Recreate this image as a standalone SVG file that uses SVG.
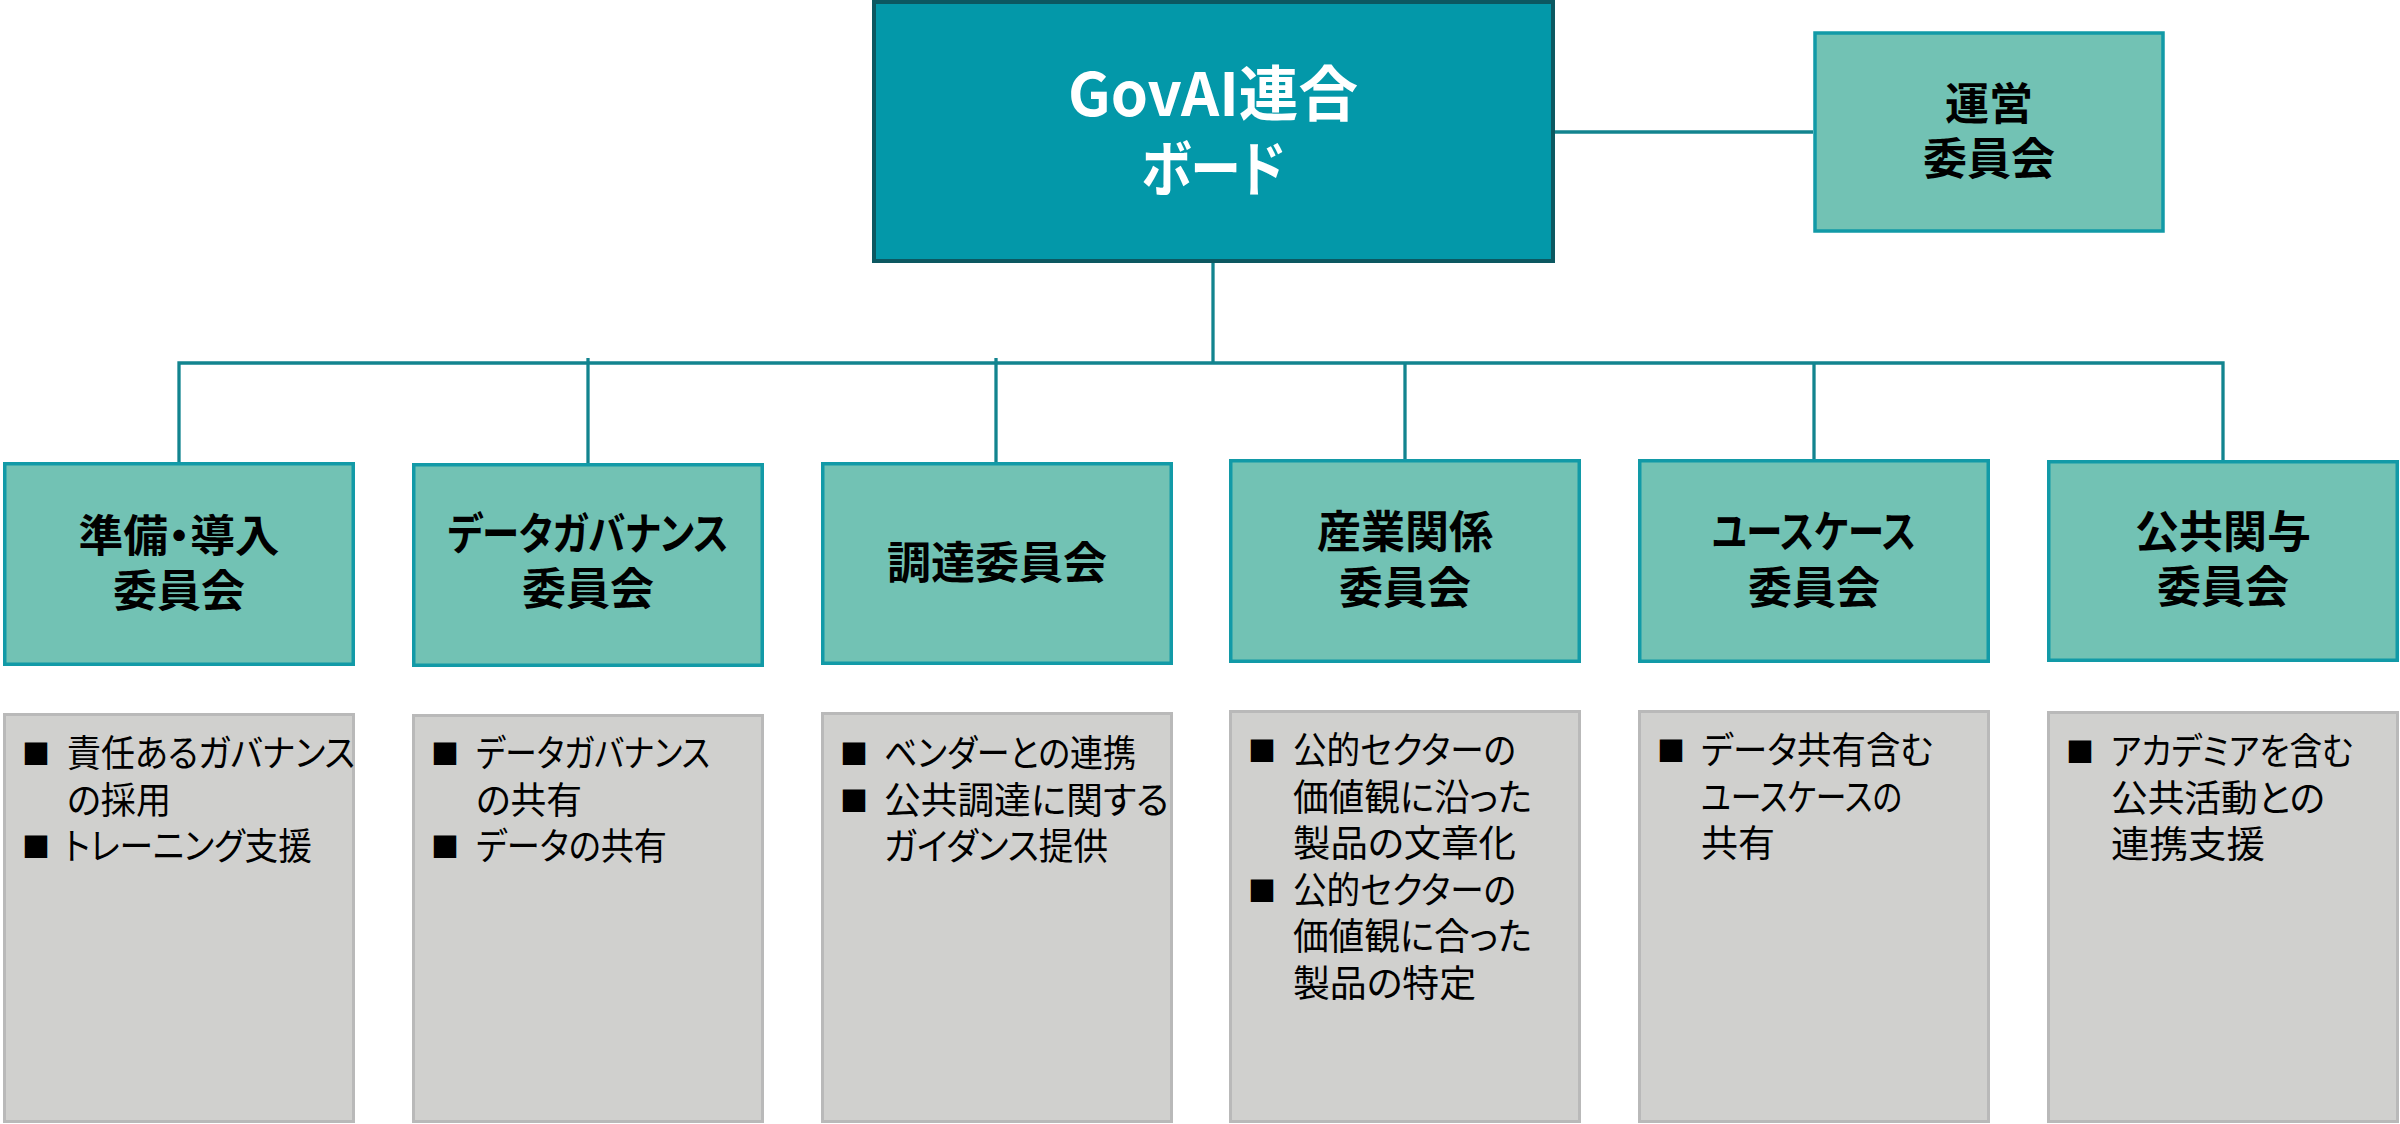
<svg xmlns="http://www.w3.org/2000/svg" width="2400" height="1124" viewBox="0 0 2400 1124">
<style>
.conn{stroke:#12848f;stroke-width:3.3;fill:none}
.board{fill:#0398a9;stroke:#0c5861;stroke-width:4}
.cmte{fill:#72c2b4;stroke:#129aa7;stroke-width:3.5}
.list{fill:#d0d0ce;stroke:#b9b9b9;stroke-width:3}
text{font-family:"Noto Sans CJK JP",sans-serif;font-feature-settings:"palt";fill:#000}
.h{font-weight:700;font-size:44px;text-anchor:middle}
.hw{font-weight:700;font-size:60px;fill:#fff;text-anchor:middle}
.b{font-size:37px}
.bul{font-size:28px}
</style>
<rect width="2400" height="1124" fill="#fff"/>
<g id="connectors">
<path class="conn" d="M1213,263 V363"/>
<path class="conn" d="M179,462 V363 H2223 V460"/>
<path class="conn" d="M588,358 V463"/>
<path class="conn" d="M996,358 V462"/>
<path class="conn" d="M1405,363 V459"/>
<path class="conn" d="M1814,363 V459"/>
<path class="conn" d="M1555,132 H1813"/>
</g>
<g id="board">
<rect class="board" x="874" y="2" width="679" height="259"/>
<text class="hw"><tspan x="1213" y="116" textLength="290" lengthAdjust="spacingAndGlyphs">GovAI連合</tspan><tspan x="1213" y="191" textLength="144" lengthAdjust="spacingAndGlyphs">ボード</tspan></text>
</g>
<g id="steering">
<rect class="cmte" x="1815" y="33" width="348" height="198"/>
<text class="h"><tspan x="1989" y="120">運営</tspan><tspan x="1989" y="175">委員会</tspan></text>
</g>
<g id="c1">
<rect class="cmte" x="4.75" y="463.75" width="348.5" height="200.5"/>
<text class="h"><tspan x="179" y="552" textLength="201" lengthAdjust="spacingAndGlyphs">準備・導入</tspan><tspan x="179" y="607">委員会</tspan></text>
</g>
<g id="c2">
<rect class="cmte" x="413.75" y="464.75" width="348.5" height="200.5"/>
<text class="h"><tspan x="588" y="550" textLength="281" lengthAdjust="spacingAndGlyphs">データガバナンス</tspan><tspan x="588" y="605">委員会</tspan></text>
</g>
<g id="c3">
<rect class="cmte" x="822.75" y="463.75" width="348.5" height="199.5"/>
<text class="h" x="997" y="579">調達委員会</text>
</g>
<g id="c4">
<rect class="cmte" x="1230.75" y="460.75" width="348.5" height="200.5"/>
<text class="h"><tspan x="1405" y="548">産業関係</tspan><tspan x="1405" y="604">委員会</tspan></text>
</g>
<g id="c5">
<rect class="cmte" x="1639.75" y="460.75" width="348.5" height="200.5"/>
<text class="h"><tspan x="1814" y="548" textLength="204" lengthAdjust="spacingAndGlyphs">ユースケース</tspan><tspan x="1814" y="604">委員会</tspan></text>
</g>
<g id="c6">
<rect class="cmte" x="2048.75" y="461.75" width="348.5" height="198.5"/>
<text class="h"><tspan x="2223" y="548">公共関与</tspan><tspan x="2223" y="603">委員会</tspan></text>
</g>
<g id="l1">
<rect class="list" x="4.5" y="714.5" width="349" height="407"/>
<text class="b"><tspan class="bul" x="22" y="765">■</tspan><tspan x="67" y="767" textLength="288" lengthAdjust="spacingAndGlyphs">責任あるガバナンス</tspan><tspan x="67" y="813.5" textLength="104" lengthAdjust="spacingAndGlyphs">の採用</tspan><tspan class="bul" x="22" y="858">■</tspan><tspan x="64" y="860" textLength="248" lengthAdjust="spacingAndGlyphs">トレーニング支援</tspan></text>
</g>
<g id="l2">
<rect class="list" x="413.5" y="715.5" width="349" height="406"/>
<text class="b"><tspan class="bul" x="431" y="765">■</tspan><tspan x="476" y="767" textLength="234" lengthAdjust="spacingAndGlyphs">データガバナンス</tspan><tspan x="476" y="813.5" textLength="106" lengthAdjust="spacingAndGlyphs">の共有</tspan><tspan class="bul" x="431" y="858">■</tspan><tspan x="476" y="860" textLength="191" lengthAdjust="spacingAndGlyphs">データの共有</tspan></text>
</g>
<g id="l3">
<rect class="list" x="822.5" y="713.5" width="349" height="408"/>
<text class="b"><tspan class="bul" x="840" y="765">■</tspan><tspan x="884" y="767" textLength="252" lengthAdjust="spacingAndGlyphs">ベンダーとの連携</tspan><tspan class="bul" x="840" y="811.5">■</tspan><tspan x="884" y="813.5" textLength="285" lengthAdjust="spacingAndGlyphs">公共調達に関する</tspan><tspan x="884" y="860" textLength="224" lengthAdjust="spacingAndGlyphs">ガイダンス提供</tspan></text>
</g>
<g id="l4">
<rect class="list" x="1230.5" y="711.5" width="349" height="410"/>
<text class="b"><tspan class="bul" x="1248" y="762">■</tspan><tspan x="1293" y="764" textLength="223" lengthAdjust="spacingAndGlyphs">公的セクターの</tspan><tspan x="1293" y="810.5" textLength="239" lengthAdjust="spacingAndGlyphs">価値観に沿った</tspan><tspan x="1293" y="857" textLength="223" lengthAdjust="spacingAndGlyphs">製品の文章化</tspan><tspan class="bul" x="1248" y="901.5">■</tspan><tspan x="1293" y="903.5" textLength="223" lengthAdjust="spacingAndGlyphs">公的セクターの</tspan><tspan x="1293" y="950" textLength="239" lengthAdjust="spacingAndGlyphs">価値観に合った</tspan><tspan x="1293" y="996.5" textLength="183" lengthAdjust="spacingAndGlyphs">製品の特定</tspan></text>
</g>
<g id="l5">
<rect class="list" x="1639.5" y="711.5" width="349" height="410"/>
<text class="b"><tspan class="bul" x="1657" y="762">■</tspan><tspan x="1701" y="764" textLength="232" lengthAdjust="spacingAndGlyphs">データ共有含む</tspan><tspan x="1701" y="810.5" textLength="201" lengthAdjust="spacingAndGlyphs">ユースケースの</tspan><tspan x="1701" y="857">共有</tspan></text>
</g>
<g id="l6">
<rect class="list" x="2048.5" y="712.5" width="349" height="409"/>
<text class="b"><tspan class="bul" x="2066" y="763">■</tspan><tspan x="2111" y="765" textLength="242" lengthAdjust="spacingAndGlyphs">アカデミアを含む</tspan><tspan x="2111" y="811.5" textLength="214" lengthAdjust="spacingAndGlyphs">公共活動との</tspan><tspan x="2111" y="858" textLength="154" lengthAdjust="spacingAndGlyphs">連携支援</tspan></text>
</g>
</svg>
